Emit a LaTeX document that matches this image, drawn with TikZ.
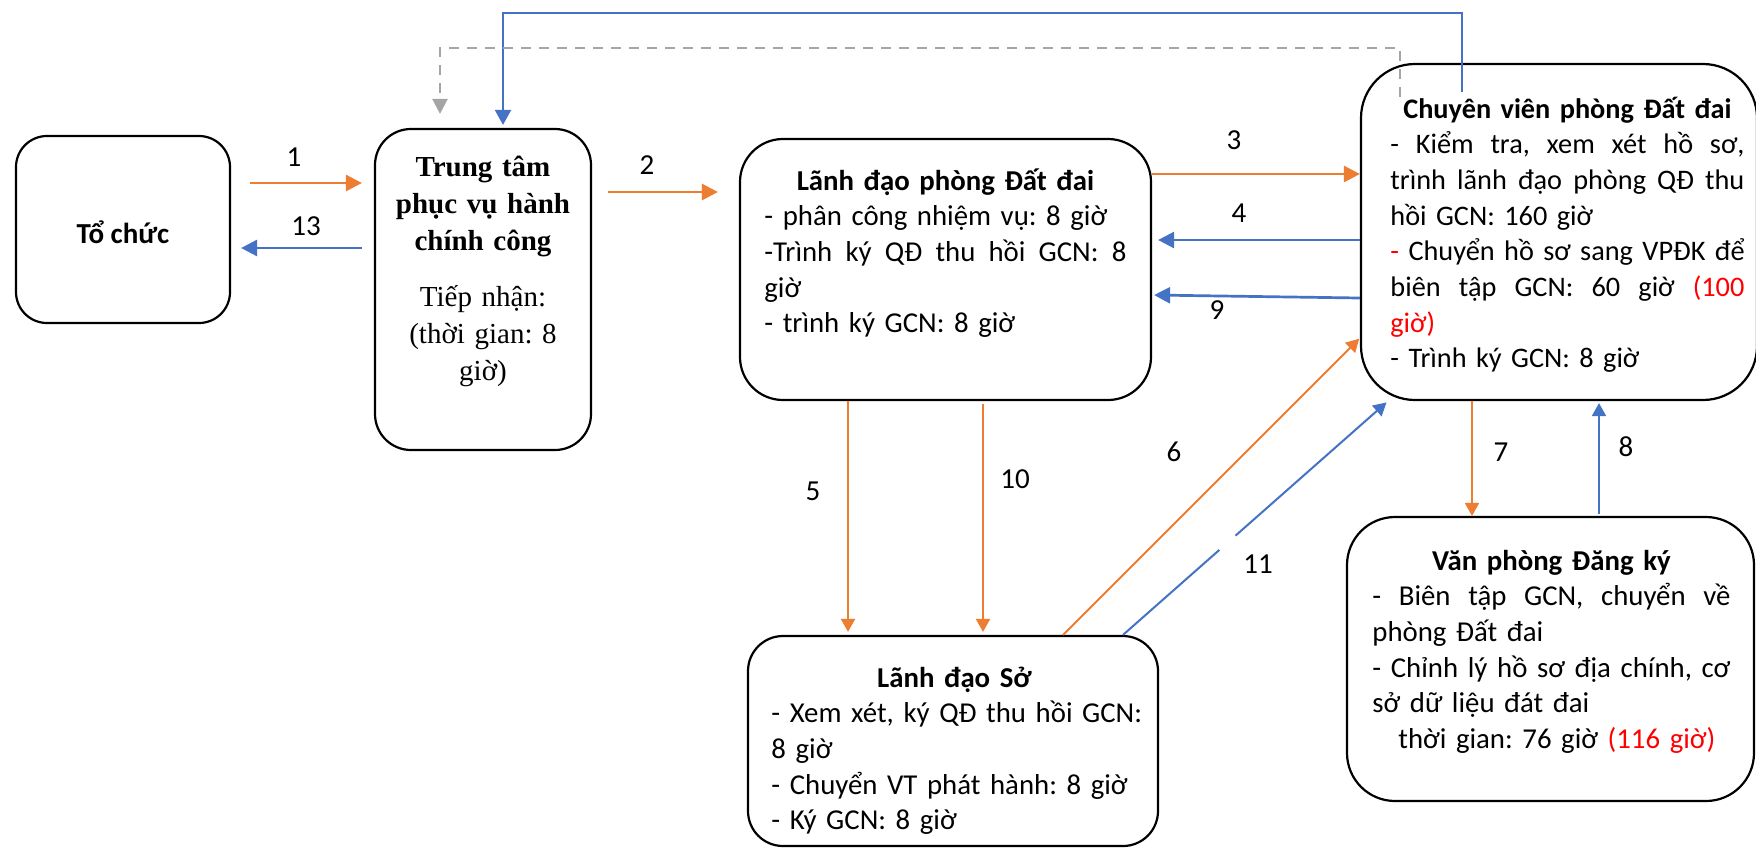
\documentclass[tikz,border=0pt]{standalone}
\usepackage{fontspec}
\setmainfont{Carlito}
\newfontfamily\tnr{Liberation Serif}
\usetikzlibrary{arrows.meta,calc}
\definecolor{aorange}{HTML}{ED7D31}
\definecolor{ablue}{HTML}{4472C4}
\definecolor{agray}{HTML}{A5A5A5}
\definecolor{ared}{HTML}{FF0000}
\frenchspacing
\newcommand\jline[1]{\leavevmode\hbox to\linewidth{#1}}
\tikzset{
  box/.style={draw=black, line width=1.1pt, inner sep=0pt},
  txt/.style={inner sep=0pt, align=left, font=\fontsize{14.4pt}{17.85pt}\selectfont\frenchspacing},
  lbl/.style={inner sep=0pt, font=\fontsize{14.5pt}{17.85pt}\selectfont},
  othick/.style={draw=aorange, line width=1.35pt, -{Triangle[length=8pt,width=8pt]}},
  bthick/.style={draw=ablue, line width=1.35pt, -{Triangle[length=8pt,width=8pt]}},
  othin/.style={draw=aorange, line width=1pt, -{Triangle[length=6.5pt,width=7pt]}},
  bthin/.style={draw=ablue, line width=1pt, -{Triangle[length=6.5pt,width=7pt]}},
  garrow/.style={draw=agray, line width=1.2pt, dash pattern=on 5pt off 4pt, -{Triangle[length=7.5pt,width=7.5pt]}},
}
\begin{document}
\begin{tikzpicture}[x=0.5pt,y=-0.5pt]
\useasboundingbox (0,0) rectangle (1756,847);
\clip (0,0) rectangle (1756,847);
\fill[white] (0,0) rectangle (1756,847);

% boxes
\node[box, rounded corners=15.5pt, minimum width=107pt, minimum height=93.5pt] (toc) at (123,229.5) {};
\node[box, rounded corners=18pt, minimum width=108pt, minimum height=160.5pt] (tt) at (483,289.5) {};
\node[box, rounded corners=21.5pt, minimum width=205.5pt, minimum height=130.5pt] (ldp) at (945.5,269.5) {};
\node[box, rounded corners=27pt, minimum width=198pt, minimum height=168pt] (cv) at (1559,232) {};
\node[box, rounded corners=24pt, minimum width=203.5pt, minimum height=142pt] (vp) at (1550.5,659) {};
\node[box, rounded corners=17.5pt, minimum width=205pt, minimum height=105pt] (ls) at (953,741) {};

% texts
\node[lbl, anchor=base, font=\bfseries\fontsize{14.5pt}{17.85pt}\selectfont] (toct) at (123,243) {Tổ chức};

\node[inner sep=0pt, anchor=base, text width=100pt, align=center,
      font=\tnr\fontsize{14.5pt}{18.5pt}\selectfont\frenchspacing] (ttt) at (483,176)
  {\textbf{Trung tâm}\\\textbf{phục vụ hành}\\\textbf{chính công}\\[9.5pt]Tiếp nhận:\\(thời gian: 8\\giờ)};

\node[txt, anchor=base west, text width=181pt] (ldpt) at (764,190)
  {\makebox[\linewidth]{\bfseries Lãnh đạo phòng Đất đai}\\
   - phân công nhiệm vụ: 8 giờ\\
   \jline{-Trình \hfill ký \hfill QĐ \hfill thu \hfill hồi \hfill GCN: \hfill 8}\\
   giờ\\
   - trình ký GCN: 8 giờ};

\node[txt, anchor=base west, text width=177pt, font=\fontsize{14.15pt}{17.85pt}\selectfont\frenchspacing] (cvt) at (1390,118)
  {\makebox[\linewidth]{\bfseries Chuyên viên phòng Đất đai}\\
   \jline{- \hfill Kiểm \hfill tra, \hfill xem \hfill xét \hfill hồ \hfill sơ,}\\
   \jline{trình \hfill lãnh \hfill đạo \hfill phòng \hfill QĐ \hfill thu}\\
   hồi GCN: 160 giờ\\
   \jline{\textcolor{ared}{-} \hfill Chuyển \hfill hồ \hfill sơ \hfill sang \hfill VPĐK \hfill để}\\
   \jline{biên \hfill tập \hfill GCN: \hfill 60 \hfill giờ \hfill \textcolor{ared}{(100}}\\
   \textcolor{ared}{giờ)}\\
   - Trình ký GCN: 8 giờ};

\node[txt, anchor=base west, text width=179pt] (vpt) at (1372,570)
  {\makebox[\linewidth]{\bfseries Văn phòng Đăng ký}\\
   \jline{- \hfill Biên \hfill tập \hfill GCN, \hfill chuyển \hfill về}\\
   phòng Đất đai\\
   \jline{- \hfill Chỉnh \hfill lý \hfill hồ \hfill sơ \hfill địa \hfill chính, \hfill cơ}\\
   sở dữ liệu đát đai\\
   \hspace*{13pt}thời gian: 76 giờ \textcolor{ared}{(116 giờ)}};

\node[txt, anchor=base west, text width=183pt] (lst) at (771,687)
  {\makebox[\linewidth]{\bfseries Lãnh đạo Sở}\\
   \jline{- \hfill Xem \hfill xét, \hfill ký \hfill QĐ \hfill thu \hfill hồi \hfill GCN:}\\
   8 giờ\\
   - Chuyển VT phát hành: 8 giờ\\
   - Ký GCN: 8 giờ};

% helper coordinates
\coordinate (y1) at (0,183);
\coordinate (y13) at (0,248);
\coordinate (y2) at (0,192);
\coordinate (y3) at (0,174);
\coordinate (y4) at (0,240);
\coordinate (y9a) at (0,298);
\coordinate (y9b) at (0,295);
\coordinate (x5) at (848,0);
\coordinate (x10) at (983,0);
\coordinate (x6) at (1063,0);
\coordinate (y6) at (0,338);
\coordinate (x11s) at (1123,0);
\coordinate (x11e) at (1388,0);
\coordinate (x7) at (1472,0);
\coordinate (x8) at (1599,0);
\coordinate (bl1) at (1462,92);
\coordinate (bl2) at (503,13);
\coordinate (gr1) at (1400,97);
\coordinate (gr2) at (440,48);

% connectors
\draw[othick, shorten <=9.5pt, shorten >=6pt] (toc.east |- y1) -- (tt.west |- y1);
\draw[bthick, shorten <=6pt, shorten >=5pt] (tt.west |- y13) -- (toc.east |- y13);
\draw[othick, shorten <=8pt, shorten >=10.5pt] (tt.east |- y2) -- (ldp.west |- y2);
\draw[othick] (ldp.east |- y3) -- (cv.west |- y3);
\draw[bthick, shorten >=3pt] (cv.west |- y4) -- (ldp.east |- y4);
\draw[bthick, shorten >=1pt] (cv.west |- y9a) -- (ldp.east |- y9b);
\draw[othin, shorten >=1.5pt] (ldp.south -| x5) -- (ls.north -| x5);
\draw[othin, shorten <=1.5pt, shorten >=1.5pt] (ldp.south -| x10) -- (ls.north -| x10);
\draw[othin, shorten >=0.5pt] (ls.north -| x6) -- (cv.west |- y6);
\draw[bthin, shorten >=1pt] (ls.north -| x11s) coordinate (s11) -- (cv.south -| x11e) coordinate (e11);
\draw[white, line width=2.5pt] ($(s11)!0.364!(e11)$) -- ($(s11)!0.424!(e11)$);
\draw[othin] (cv.south -| x7) -- (vp.north -| x7);
\draw[bthin, shorten <=1pt, shorten >=1pt] (vp.north -| x8) -- (cv.south -| x8);
\draw[draw=ablue, line width=1pt, -{Triangle[length=7.5pt,width=8pt]}, shorten >=1.5pt] (bl1) |- (bl2) -- (bl2 |- tt.north);
\draw[garrow, shorten >=7pt] (gr1) |- (gr2) -- (gr2 |- tt.north);

% labels
\node[lbl] (n1) at (294,157) {1};
\node[lbl] (n13) at (306,226) {13};
\node[lbl] (n2) at (647,165) {2};
\node[lbl] (n3) at (1234,140) {3};
\node[lbl] (n4) at (1239,213) {4};
\node[lbl] (n9) at (1217,310) {9};
\node[lbl] (n5) at (813,491) {5};
\node[lbl] (n10) at (1015,479) {10};
\node[lbl] (n6) at (1174,452) {6};
\node[lbl] (n11) at (1258,564) {11};
\node[lbl] (n7) at (1501,452) {7};
\node[lbl] (n8) at (1626,447) {8};
\end{tikzpicture}
\end{document}
